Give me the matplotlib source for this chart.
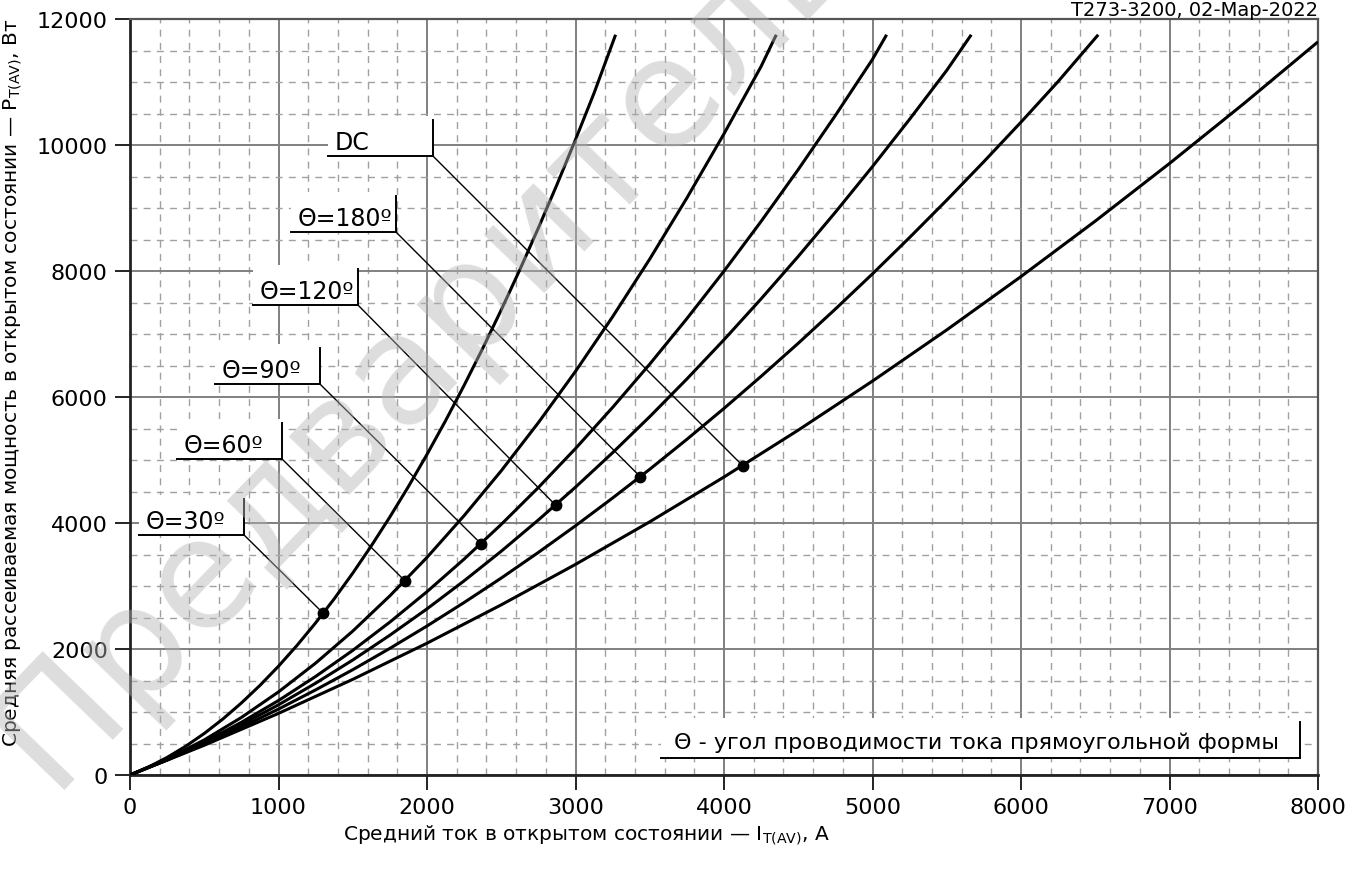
import matplotlib
matplotlib.use("Agg")
import matplotlib.pyplot as plt
from matplotlib.ticker import MultipleLocator
from matplotlib.patches import Rectangle

plt.rcParams['font.family'] = ['DejaVu Sans']
plt.rcParams['mathtext.fontset'] = 'dejavusans'

# average on-state power vs. average current, per conduction angle
I_30 = [0, 125, 250, 375, 500, 625, 750, 875, 1000, 1125, 1250, 1375, 1500, 1625, 1750,
        1875, 2000, 2125, 2250, 2375, 2500, 2625, 2750, 2875, 3000, 3125, 3270]
P_30 = [0, 127, 279, 456, 659, 888, 1143, 1422, 1727, 2058, 2415, 2796, 3204, 3637, 4096,
        4579, 5089, 5624, 6185, 6771, 7383, 8020, 8683, 9371, 10085, 10824, 11750]

I_60 = [0, 250, 500, 750, 1000, 1250, 1500, 1750, 2000, 2250, 2500, 2750, 3000, 3250,
        3500, 3750, 4000, 4250, 4352]
P_60 = [0, 254, 557, 913, 1319, 1776, 2284, 2844, 3454, 4117, 4829, 5593, 6407, 7274,
        8190, 9159, 10178, 11248, 11750]

I_90 = [0, 250, 500, 750, 1000, 1250, 1500, 1750, 2000, 2250, 2500, 2750, 3000, 3250,
        3500, 3750, 4000, 4250, 4500, 4750, 5000, 5095]
P_90 = [0, 245, 523, 836, 1182, 1564, 1978, 2427, 2910, 3427, 3978, 4563, 5182, 5835,
        6522, 7244, 7998, 8788, 9611, 10469, 11360, 11750]

I_120 = [0, 250, 500, 750, 1000, 1250, 1500, 1750, 2000, 2250, 2500, 2750, 3000, 3250,
         3500, 3750, 4000, 4250, 4500, 4750, 5000, 5250, 5500, 5665]
P_120 = [0, 241, 506, 798, 1114, 1457, 1825, 2219, 2637, 3082, 3552, 4048, 4569, 5116,
         5688, 6286, 6909, 7558, 8232, 8933, 9658, 10409, 11185, 11750]

I_180 = [0, 250, 500, 750, 1000, 1250, 1500, 1750, 2000, 2250, 2500, 2750, 3000, 3250,
         3500, 3750, 4000, 4250, 4500, 4750, 5000, 5250, 5500, 5750, 6000, 6250, 6520]
P_180 = [0, 237, 489, 760, 1046, 1351, 1671, 2010, 2365, 2738, 3126, 3533, 3956, 4397,
         4853, 5328, 5819, 6328, 6853, 7396, 7955, 8532, 9125, 9736, 10363, 11008, 11750]

I_DC = [0, 500, 1000, 1500, 2000, 2500, 3000, 3500, 4000, 4500, 5000, 5500, 6000, 6500,
        7000, 7500, 8000]
P_DC = [0, 472, 978, 1518, 2092, 2701, 3343, 4019, 4730, 5474, 6253, 7065, 7912, 8792,
        9707, 10656, 11638]

# marked points on each curve
DOT_I = [1300, 1850, 2363, 2866, 3436, 4125]
DOT_P = [2570, 3085, 3672, 4283, 4735, 4912]

LABELS = ['Θ=30º', 'Θ=60º', 'Θ=90º', 'Θ=120º', 'Θ=180º', 'DC']
NOTE = 'Θ - угол проводимости тока прямоугольной формы'

# label box corners (right-bottom), data coords
LABEL_CORNERS = [(768, 3810), (1024, 5016), (1279, 6206), (1535, 7460), (1791, 8619), (2040, 9825)]
NOTE_CORNER = (7879, 270)

W, H = 1363, 879
fig = plt.figure(figsize=(W / 100, H / 100), dpi=100)
ax = fig.add_axes([130 / W, (H - 776) / H, 1188 / W, 756 / H])
ax.set_xlim(0, 8000)
ax.set_ylim(0, 12000)

ax.xaxis.set_major_locator(MultipleLocator(1000))
ax.xaxis.set_minor_locator(MultipleLocator(200))
ax.yaxis.set_major_locator(MultipleLocator(2000))
ax.yaxis.set_minor_locator(MultipleLocator(500))
ax.grid(which='major', color='#808080', lw=1.4, zorder=1)
ax.grid(which='minor', color='#a0a0a0', lw=1.0, ls=(0, (5, 4.5)), zorder=1)
ax.set_axisbelow(True)
ax.tick_params(which='major', length=11, width=1.4, color='#222222', labelsize=16, pad=5)
ax.tick_params(which='minor', length=0)
for side in ['left', 'bottom']:
    ax.spines[side].set_color('#222222')
    ax.spines[side].set_linewidth(2)
for side in ['top', 'right']:
    ax.spines[side].set_color('#555555')
    ax.spines[side].set_linewidth(1.6)

curves = [(I_30, P_30), (I_60, P_60), (I_90, P_90), (I_120, P_120), (I_180, P_180), (I_DC, P_DC)]
for xs, ys in curves:
    ax.plot(xs, ys, color='black', lw=2.2, zorder=5, solid_capstyle='butt')

inv = ax.transData.inverted()


def boxed_label(corner, text, width, height, text_dx, text_dy, size):
    X, Y = ax.transData.transform(corner)
    x0, y0 = inv.transform((X - width, Y))
    x1, y1 = inv.transform((X, Y + height + 4))
    ax.add_patch(Rectangle((x0, y0), x1 - x0, y1 - y0, fc='white', ec='none', zorder=3))
    _, yv = inv.transform((X, Y + height))
    ax.plot([x0, corner[0]], [corner[1], corner[1]], color='black', lw=1.4, zorder=4)
    ax.plot([corner[0], corner[0]], [corner[1], yv], color='black', lw=1.4, zorder=4)
    tx, ty = inv.transform((X - width + text_dx, Y + text_dy))
    ax.text(tx, ty, text, ha='left', va='center', fontsize=size, zorder=4)


for corner, text, xi, yi in zip(LABEL_CORNERS, LABELS, DOT_I, DOT_P):
    boxed_label(corner, text, 105, 36, 7, 14, 17)
    ax.plot([corner[0], xi], [corner[1], yi], color='black', lw=1.0, zorder=4)

ax.plot(DOT_I, DOT_P, 'o', color='black', ms=7.5, zorder=6)

boxed_label(NOTE_CORNER, NOTE, 639, 36, 13, 16, 16)

ax.text(1.0, 1.0, 'T273-3200, 02-Мар-2022', transform=ax.transAxes,
        ha='right', va='bottom', fontsize=14)

fig.text(343 / W, 1 - 835 / H, 'Средний ток в открытом состоянии — I$_{\\mathregular{T(AV)}}$, А',
         ha='left', va='center', fontsize=14.5)
fig.text(13 / W, 1 - 383 / H,
         'Средняя рассеиваемая мощность в открытом состоянии — P$_{\\mathregular{T(AV)}}$, Вт',
         ha='center', va='center', rotation=90, fontsize=14.5)

# watermark
fig.text(50 / W, 1 - 790 / H, 'Предварительные', rotation=46, rotation_mode='anchor',
         ha='left', va='baseline', fontsize=110, color='#b4b4b4', alpha=0.45, zorder=10)

fig.savefig('out.png', dpi=100)
